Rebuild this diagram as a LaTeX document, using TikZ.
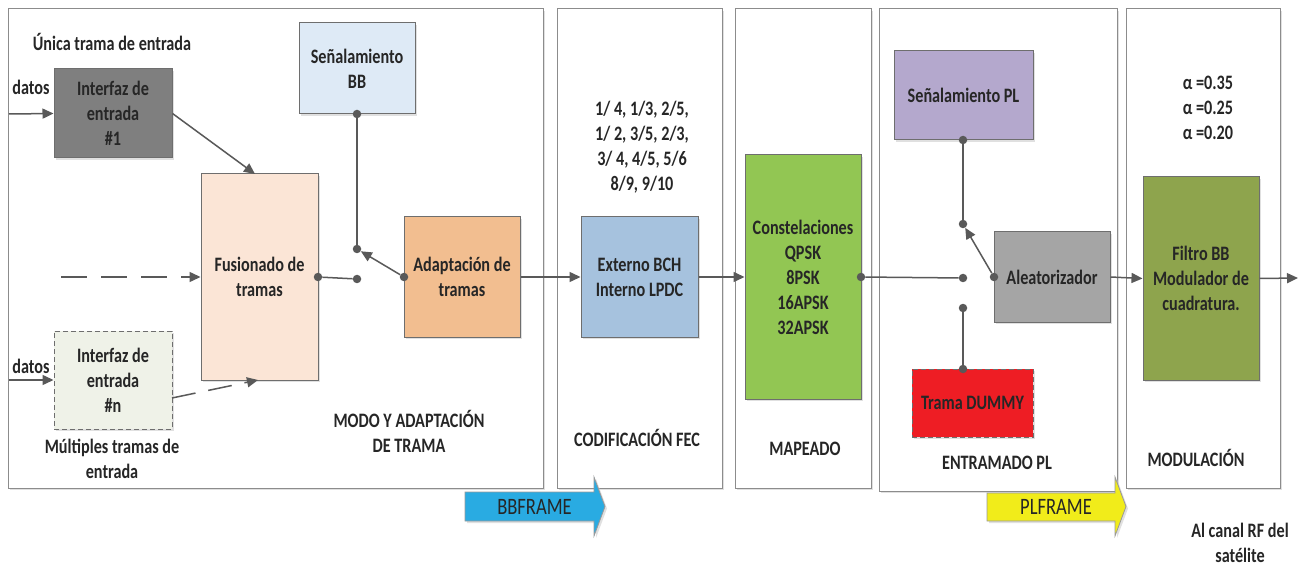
\documentclass[tikz,border=0pt]{standalone}
\usepackage{fontspec}
\setmainfont{Carlito}[FakeStretch=0.79]
\usetikzlibrary{arrows.meta,shadows}
\definecolor{lnc}{HTML}{595959}
\definecolor{pnl}{HTML}{8C8C8C}
\definecolor{bxl}{HTML}{6E6E6E}
\definecolor{txt}{HTML}{262626}
\definecolor{cIf}{HTML}{7F7F7F}
\definecolor{cBB}{HTML}{DEEAF6}
\definecolor{cFus}{HTML}{FBE5D6}
\definecolor{cAd}{HTML}{F2BE90}
\definecolor{cIfn}{HTML}{EFF2E8}
\definecolor{cExt}{HTML}{A6C2DE}
\definecolor{cCon}{HTML}{92C653}
\definecolor{cSpl}{HTML}{B4A8CD}
\definecolor{cAl}{HTML}{A5A5A5}
\definecolor{cDum}{HTML}{EE1D24}
\definecolor{cFil}{HTML}{8EA44D}
\definecolor{cBBF}{HTML}{29ABE2}
\definecolor{cPLF}{HTML}{F1EC1A}
\tikzset{
  lbl/.style={font=\bfseries\fontsize{20.5}{25}\selectfont, align=center, text=txt, inner sep=0pt},
  shd/.style={drop shadow={shadow xshift=2pt,shadow yshift=-2pt,fill=black!20,opacity=.6}},
  blk/.style={lbl, draw=bxl, line width=1pt, shd},
  boxdash/.style={dash pattern=on 5pt off 3pt},
  panel/.style={draw=pnl, line width=1pt, fill=white, shd},
  conn/.style={draw=lnc, line width=1.5pt},
  arr/.style={conn, -{Triangle[length=11pt,width=10pt]}},
  dsh/.style={dash pattern=on 26pt off 14pt},
  dotc/.style={circle, fill=lnc, inner sep=0pt, minimum size=8.5pt},
  bigarr/.style={draw=black!40, line width=0.8pt, shd},
  arrtxt/.style={font=\fontsize{23.5}{28}\selectfont, text=txt, inner sep=0pt},
}
\begin{document}
\begin{tikzpicture}[x=1pt,y=-1pt]
\useasboundingbox (0,0) rectangle (1298,569);
% panels
\draw[panel] (8,9) rectangle (543,488);
\draw[panel] (557,9) rectangle (722,488);
\draw[panel] (735,9) rectangle (871,488);
\draw[panel] (879,9) rectangle (1117,491);
\draw[panel] (1126,9) rectangle (1280,488);
% big arrows
\draw[bigarr, fill=cBBF] (465,492) -- (594,492) -- (594,477) -- (605,506.5) -- (594,536) -- (594,521) -- (465,521) -- cycle;
\node[arrtxt] (bbf) at (534.5,507) {BBFRAME};
\draw[bigarr, fill=cPLF] (987,493) -- (1115,493) -- (1115,477) -- (1126,506.5) -- (1115,536) -- (1115,521) -- (987,521) -- cycle;
\node[arrtxt] (plf) at (1056,507) {PLFRAME};
% blocks
\node[blk, fill=cIf, minimum width=118pt, minimum height=89pt] (if1) at (113,113.5) {Interfaz de\\entrada\\\#1};
\node[blk, fill=cBB, minimum width=116pt, minimum height=91pt] (bb) at (357,68.5) {Señalamiento\\BB};
\node[blk, fill=cFus, minimum width=117pt, minimum height=206pt] (fus) at (259.5,277) {Fusionado de\\tramas};
\node[blk, fill=cAd, minimum width=116pt, minimum height=120pt] (adap) at (462,277) {Adaptación de\\tramas};
\node[blk, fill=cIfn, boxdash, minimum width=118pt, minimum height=98pt] (ifn) at (113,380) {Interfaz de\\entrada\\\#n};
\node[blk, fill=cExt, minimum width=117pt, minimum height=120pt] (ext) at (639.5,277) {Externo BCH\\Interno LPDC};
\node[blk, fill=cCon, minimum width=116pt, minimum height=244pt] (con) at (803,277) {Constelaciones\\QPSK\\8PSK\\16APSK\\32APSK};
\node[blk, fill=cSpl, minimum width=139pt, minimum height=89pt] (spl) at (963.5,95.5) {Señalamiento PL};
\node[blk, fill=cAl, minimum width=116pt, minimum height=90pt] (alea) at (1052,277) {Aleatorizador};
\node[blk, fill=cDum, boxdash, minimum width=121pt, minimum height=68pt] (dum) at (972.5,403) {Trama DUMMY};
\node[blk, fill=cFil, minimum width=116pt, minimum height=203pt] (fil) at (1201,278.5) {Filtro BB\\Modulador de\\cuadratura.};
% labels
\node[lbl] (t1) at (112,42) {Única trama de entrada};
\node[lbl] (t2) at (31,87) {datos};
\node[lbl] (t3) at (31,366) {datos};
\node[lbl] (t4) at (112,459) {Múltiples tramas de\\entrada};
\node[lbl] (t5) at (409,431) {MODO Y ADAPTACIÓN\\DE TRAMA};
\node[lbl] (t6) at (642,147.5) {1/ 4, 1/3, 2/5,\\1/ 2, 3/5, 2/3,\\3/ 4, 4/5, 5/6\\8/9, 9/10};
\node[lbl] (t7) at (637,438) {CODIFICACIÓN FEC};
\node[lbl] (t8) at (805,449) {MAPEADO};
\node[lbl] (t9) at (997,463) {ENTRAMADO PL};
\node[lbl] (t10) at (1196,458) {MODULACIÓN};
\node[lbl] (t11) at (1208,108) {α =0.35\\α =0.25\\α =0.20};
\node[lbl] (t12) at (1240,543) {Al canal RF del\\satélite};
% coordinates
\coordinate (in1) at (9,114);
\coordinate (inn) at (9,380);
\coordinate (fusin1) at (255,174);
\coordinate (dashin) at (61,277);
\coordinate (ifnout) at (172,398);
\coordinate (fusin2) at (258,380);
\coordinate (out) at (1298,278);
% dots
\node[dotc] (dA) at (318,277) {};
\node[dotc] (dB) at (357,279) {};
\node[dotc] (dC) at (357,114) {};
\node[dotc] (dD) at (357,249) {};
\node[dotc] (dE) at (404,277) {};
\node[dotc] (dF) at (861,277) {};
\node[dotc] (dG) at (963,278) {};
\node[dotc] (dH) at (963,140) {};
\node[dotc] (dI) at (963,224) {};
\node[dotc] (dJ) at (994,277) {};
\node[dotc] (dK) at (963,369) {};
\node[dotc] (dL) at (963,308) {};
% connectors
\draw[arr] (in1) -- (if1.west);
\draw[arr] (inn) -- (ifn.west);
\draw[arr] (if1.east) -- (fusin1);
\draw[arr, dsh] (dashin) -- (fus.west);
\draw[arr, dash pattern=on 24pt off 13pt] (ifnout) -- (fusin2);
\draw[conn] (dA) -- (dB);
\draw[conn] (dC) -- (dD);
\draw[arr] (dE) -- (dD);
\draw[arr] (adap.east) -- (ext.west);
\draw[arr] (ext.east) -- (con.west);
\draw[conn] (dF) -- (dG);
\draw[conn] (dH) -- (dI);
\draw[arr] (dJ) -- (dI);
\draw[conn] (dK) -- (dL);
\draw[arr] (alea.east) -- (fil.west);
\draw[arr] (fil.east) -- (out);
\end{tikzpicture}
\end{document}
